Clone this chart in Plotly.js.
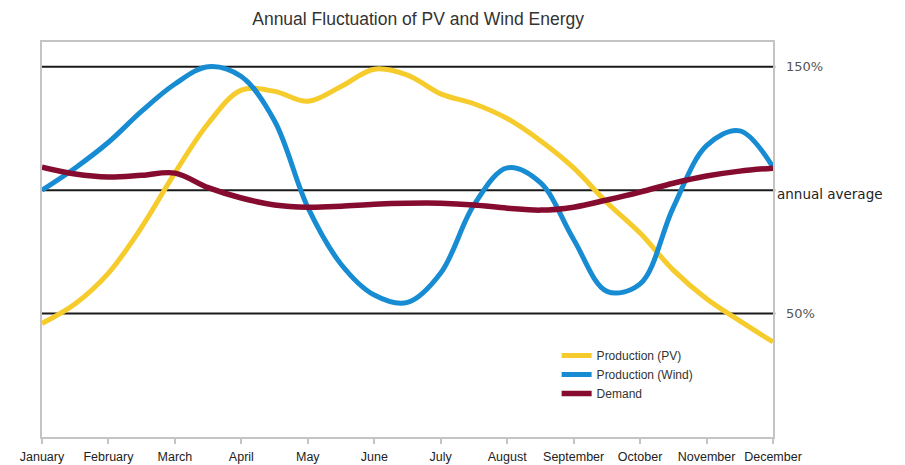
<!DOCTYPE html>
<html>
<head>
<meta charset="utf-8">
<script src="https://cdn.plot.ly/plotly-3.0.1.min.js"></script>
<style>html,body{margin:0;padding:0;background:#fff;}#chart{width:905px;height:465px;}</style>
</head>
<body>
<div id="chart"></div>
<script>
// Month labels (tick labels) and their positions in month units
const months = ['January','February','March','April','May','June','July','August','September','October','November','December'];
const monthIndex = [0,1,2,3,4,5,6,7,8,9,10,11];
// Sample positions (half-month steps, in months from January)
const samplePos = [0,0.5,1,1.5,2,2.5,3,3.5,4,4.5,5,5.5,6,6.5,7,7.5,8,8.5,9,9.5,10,10.5,11];
// Values in % of annual average
const pvValues   = [46,54,66.4,85,107,127,140.5,140,136,142,149,146.6,139,135,129,120,109,95,82.6,67.6,56,47,38.5];
const windValues = [100,109,119.4,132,143,150,146,128,93,70,57.5,54.5,66.4,94,109,103,80,59,62,93,118,124,109.3];
const demandValues = [109.3,106.5,105.3,106,106.9,101,96.8,94,93.1,93.5,94.3,94.7,94.7,94,92.7,91.9,93.1,96,99.2,102.8,105.7,107.7,108.9];
// Reference levels and their labels
const refLevels = [150,100,50];
const refLabels = ['150%','annual average','50%'];

const traces = [
  {x: samplePos, y: pvValues, name: 'Production (PV)', mode: 'lines',
   line: {color: '#F6CB2C', width: 5, shape: 'spline', smoothing: 1}},
  {x: samplePos, y: windValues, name: 'Production (Wind)', mode: 'lines',
   line: {color: '#178CD3', width: 5, shape: 'spline', smoothing: 1}},
  {x: samplePos, y: demandValues, name: 'Demand', mode: 'lines',
   line: {color: '#850C2E', width: 5.5, shape: 'spline', smoothing: 1}}
];

const shapes = refLevels.map(v => ({
  type: 'line', xref: 'paper', yref: 'y', x0: 0, x1: 1.003, y0: v, y1: v,
  line: {color: '#1a1a1a', width: 2}, layer: 'below'
}));

const annotations = refLevels.map((v, i) => ({
  xref: 'paper', yref: 'y', x: 1, y: v, xanchor: 'left', yanchor: 'middle',
  xshift: i === 1 ? 2 : 11, yshift: i === 1 ? -4 : 0,
  text: refLabels[i], showarrow: false,
  font: {family: 'DejaVu Sans, sans-serif', size: i === 1 ? 13.5 : 13, color: i === 1 ? '#222' : '#555'}
}));

const layout = {
  width: 905, height: 465,
  margin: {l: 42, r: 132, t: 42, b: 28},
  paper_bgcolor: '#fff', plot_bgcolor: '#fff',
  title: {text: 'Annual Fluctuation of PV and Wind Energy',
          font: {family: 'Liberation Sans, Arial, sans-serif', size: 17.5, color: '#333'},
          x: 0.462, xanchor: 'center', y: 0.96, yanchor: 'middle'},
  xaxis: {range: [0, 11], tickvals: monthIndex, ticktext: months,
          showgrid: false, zeroline: false, showline: true, mirror: true,
          linecolor: '#c4c4c4', linewidth: 2, ticks: 'outside', ticklen: 5,
          tickcolor: '#c4c4c4', tickwidth: 2, ticklabelstandoff: 2,
          tickfont: {family: 'Liberation Sans, Arial, sans-serif', size: 12.5, color: '#222'},
          fixedrange: true},
  yaxis: {range: [0, 160], showgrid: false, zeroline: false, showline: true, mirror: true,
          linecolor: '#c4c4c4', linewidth: 2, showticklabels: false, ticks: '',
          fixedrange: true},
  showlegend: true,
  legend: {x: 0.704, xanchor: 'left', y: 0.243, yanchor: 'top', bgcolor: 'rgba(0,0,0,0)',
           itemwidth: 30, tracegroupgap: 0,
           font: {family: 'Liberation Sans, Arial, sans-serif', size: 12, color: '#333'}},
  shapes: shapes,
  annotations: annotations
};

Plotly.newPlot('chart', traces, layout, {displayModeBar: false, staticPlot: true});
</script>
</body>
</html>
